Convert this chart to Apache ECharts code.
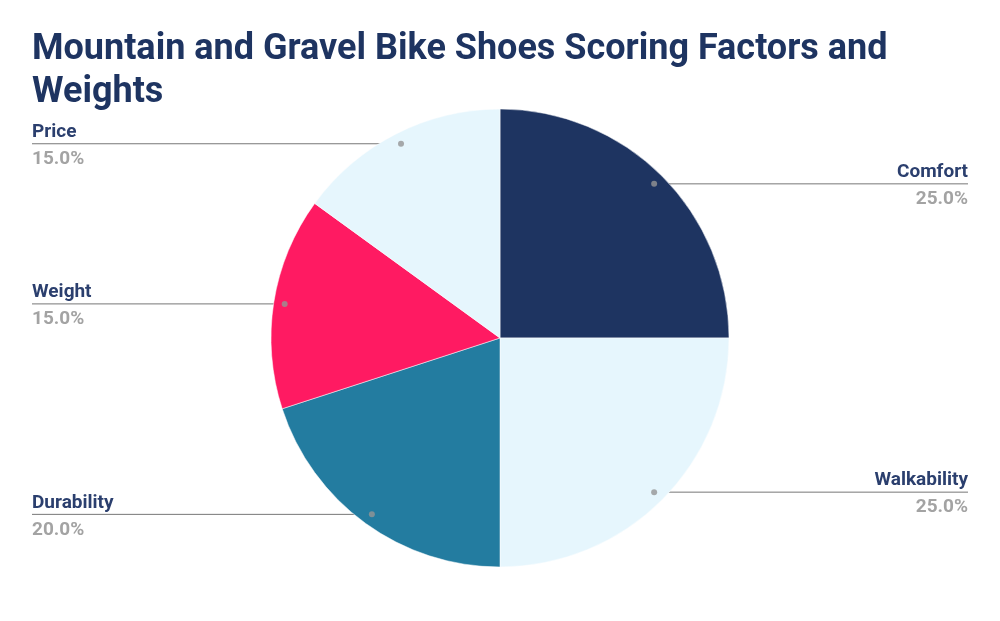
<!DOCTYPE html>
<html>
<head>
<meta charset="utf-8">
<script src="https://cdn.jsdelivr.net/npm/echarts@6/dist/echarts.min.js"></script>
<style>
html,body{margin:0;padding:0;background:#fff;}
#chart{width:1000px;height:621px;}
</style>
</head>
<body>
<div id="chart"></div>
<script>
const categories = ['Comfort', 'Walkability', 'Durability', 'Weight', 'Price'];
const weights = [25, 25, 20, 15, 15];
const sliceColors = ['#1e3461', '#e6f6fd', '#237ca0', '#ff1a62', '#e6f6fd'];

const CX = 500, CY = 338, R = 229;
const total = weights.reduce((a, b) => a + b, 0);

const pieData = categories.map((c, i) => ({ name: c, value: weights[i], itemStyle: { color: sliceColors[i] } }));

// midpoints of slices (for the small dots at label-line starts)
let acc = 0;
const dotData = weights.map(w => { const m = acc + w / 2; acc += w; return [0.952, m / total * 100]; });

const chart = echarts.init(document.getElementById('chart'), null, { renderer: 'canvas' });
chart.setOption({
  backgroundColor: '#ffffff',
  animation: false,
  title: {
    text: 'Mountain and Gravel Bike Shoes Scoring Factors and\nWeights',
    left: 32, top: 28, padding: 0,
    textStyle: { fontFamily: 'Roboto', fontWeight: 'bold', fontSize: 36, lineHeight: 43, color: '#1e3461' }
  },
  polar: { center: [CX, CY], radius: R },
  angleAxis: { type: 'value', min: 0, max: 100, startAngle: 90, clockwise: true, show: false },
  radiusAxis: { type: 'value', min: 0, max: 1, show: false },
  series: [
    {
      type: 'pie',
      center: [CX, CY],
      radius: R,
      startAngle: 90,
      clockwise: true,
      label: { show: false },
      labelLine: { show: false },
      itemStyle: { borderColor: '#ffffff', borderWidth: 0.5 },
      emphasis: { disabled: true },
      data: pieData
    },
    {
      type: 'pie',
      center: [CX, CY],
      radius: Math.round(R * 0.952),
      startAngle: 90,
      clockwise: true,
      silent: true,
      itemStyle: { color: 'rgba(0,0,0,0)' },
      emphasis: { disabled: true },
      label: {
        show: true,
        position: 'outer',
        alignTo: 'edge',
        edgeDistance: 32,
        distanceToLabelLine: 0,
        padding: [4, 0, 0, 0],
        formatter: p => '{n|' + p.name + '}\n{v|' + p.value.toFixed(1) + '%}',
        rich: {
          n: { fontFamily: 'Roboto', fontWeight: 'bold', fontSize: 19, lineHeight: 27, color: '#2b3f6e' },
          v: { fontFamily: 'Roboto', fontWeight: 'bold', fontSize: 19, lineHeight: 27, color: '#a3a3a3' }
        }
      },
      labelLine: { show: true, length: 0, length2: 10, lineStyle: { color: '#777777', width: 1 } },
      labelLayout: function (params) {
        const pts = params.labelLinePoints;
        const rect = params.labelRect;
        if (!pts) return {};
        const last = pts[pts.length - 1];
        const leftSide = last[0] < pts[0][0];
        const edgeX = leftSide ? rect.x : rect.x + rect.width;
        return { labelLinePoints: [pts[0], [pts[0][0], last[1]], [edgeX, last[1]]] };
      },
      data: pieData.map(d => ({ name: d.name, value: d.value }))
    },
    {
      type: 'scatter',
      coordinateSystem: 'polar',
      symbol: 'circle',
      symbolSize: 6,
      silent: true,
      itemStyle: { color: '#959595' },
      data: dotData,
      z: 5
    }
  ]
});
</script>
</body>
</html>
